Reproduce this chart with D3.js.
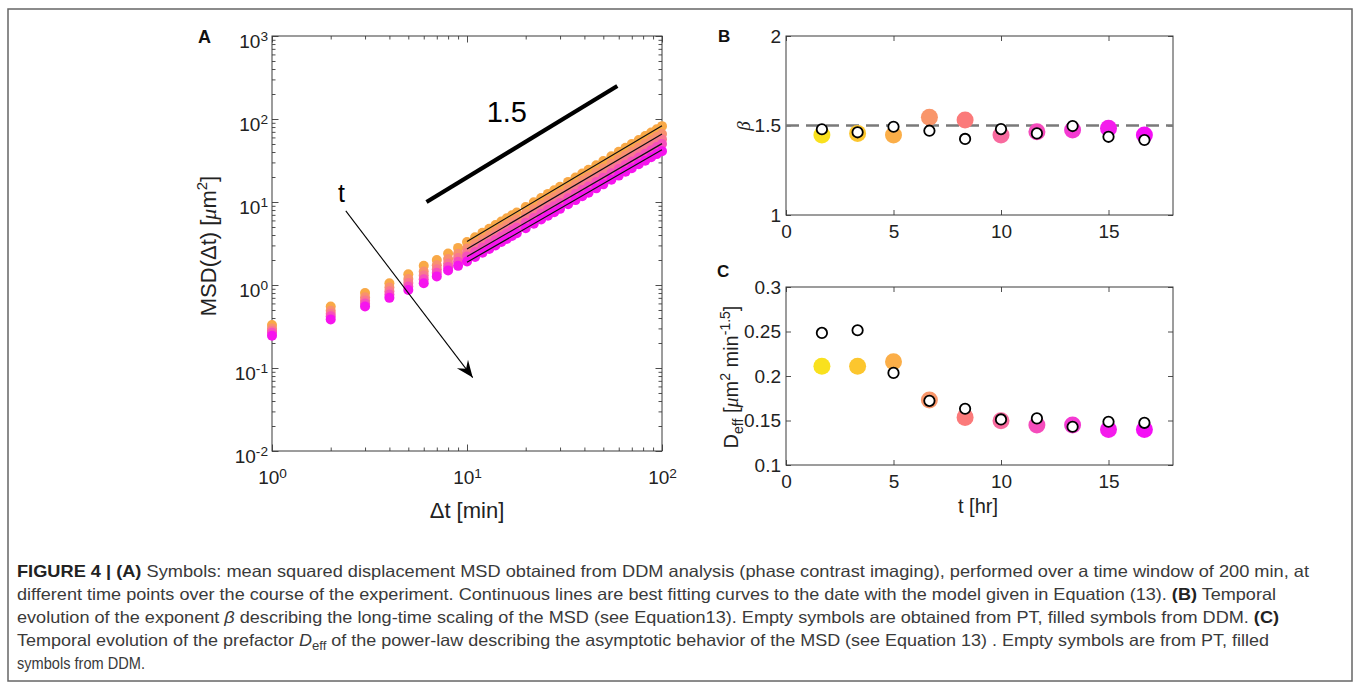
<!DOCTYPE html>
<html>
<head>
<meta charset="utf-8">
<script src="https://cdn.jsdelivr.net/npm/d3@7"></script>
<style>
  body { margin: 0; background: #fff; }
  svg { display: block; font-family: "Liberation Sans", Arial, Helvetica, sans-serif; }
</style>
</head>
<body>
<svg id="fig" width="1358" height="687"></svg>
<script>
// ---------- Panel A: MSD(Δt) curves, early (orange) to late (magenta) ----------
const dtMin = [1,2,3,4,5,6,7,8,9,10,11,12,13,14,15,16,17,18,20,22,24,26,28,30,33,36,39,42,46,50,55,60,65,70,76,82,88,94,100];
const msdS1 = [0.33,0.55,0.80,1.05,1.35,1.70,2.0,2.4,2.8,3.3,3.77,4.26,4.76,5.28,5.81,6.36,6.92,7.49,8.68,9.92,11.19,12.52,13.88,15.29,17.46,19.71,22.04,24.44,27.76,31.18,35.61,40.2,44.96,49.86,55.9,62.2,68.6,75.2,82];
const msdS2 = [0.30,0.49,0.71,0.93,1.18,1.45,1.73,2.05,2.38,2.75,3.14,3.54,3.95,4.37,4.81,5.26,5.72,6.19,7.16,8.16,9.21,10.28,11.39,12.52,14.29,16.11,17.99,19.93,22.6,25.36,28.92,32.62,36.42,40.34,45.19,50.17,55.34,60.6,66];
const msdS3 = [0.28,0.45,0.65,0.84,1.06,1.30,1.55,1.82,2.12,2.45,2.79,3.14,3.51,3.88,4.26,4.66,5.06,5.47,6.32,7.2,8.11,9.05,10.01,11.0,12.52,14.11,15.74,17.41,19.72,22.1,25.18,28.37,31.64,35.02,39.17,43.46,47.87,52.38,57];
const msdS4 = [0.265,0.42,0.60,0.77,0.96,1.17,1.40,1.65,1.90,2.2,2.50,2.82,3.14,3.47,3.81,4.16,4.52,4.88,5.63,6.41,7.21,8.04,8.89,9.76,11.11,12.51,13.94,15.41,17.44,19.53,22.23,25.01,27.87,30.83,34.45,38.2,42.05,45.97,50];
const msdS5 = [0.245,0.385,0.55,0.70,0.87,1.05,1.27,1.50,1.70,1.92,2.18,2.45,2.72,3.00,3.29,3.59,3.89,4.20,4.83,5.48,6.15,6.84,7.55,8.27,9.39,10.54,11.73,12.94,14.6,16.32,18.52,20.79,23.13,25.52,28.47,31.5,34.59,37.76,41];
const msdColors = ["#f9a947", "#f8906f", "#f87890", "#f64fbd", "#f614ee"];

// best-fit model curves over the long-time range
const fitDt = [10, 100];
const fitS1 = [3.35, 83];
const fitS2 = [2.72, 66];
const fitS4 = [2.2, 50.5];
const fitS5 = [1.88, 42.5];

// reference slope 1.5 guide and time arrow
const slopeDt = [6.2, 59];
const slopeMsd = [10, 250];
const slopeLabelAt = [16, 91];
const arrowDt = [2.39, 10.7];
const arrowMsd = [7.8, 0.0766];
const arrowLabelAt = [2.27, 9.9];

const ticksAx = [1, 10, 100];
const ticksAy = [0.01, 0.1, 1, 10, 100, 1000];

// ---------- Panels B and C: fit parameters vs experiment time ----------
const tHours = [1.67, 3.33, 5, 6.67, 8.33, 10, 11.67, 13.33, 15, 16.67];
const betaDDM = [1.447, 1.456, 1.447, 1.546, 1.531, 1.447, 1.465, 1.475, 1.484, 1.447];
const betaPT  = [1.479, 1.462, 1.493, 1.471, 1.425, 1.480, 1.456, 1.497, 1.437, 1.419];
const deffDDM = [0.211, 0.211, 0.216, 0.173, 0.1535, 0.1497, 0.1449, 0.1449, 0.140, 0.140];
const deffPT  = [0.2484, 0.2514, 0.2035, 0.1721, 0.1632, 0.1512, 0.1524, 0.143, 0.1486, 0.1474];
const timeColors = ["#f9e11e", "#fcc62e", "#fbae48", "#f9966a", "#fb7a7a", "#f86a9e", "#f54cbc", "#f43ad2", "#f41cec", "#f40ff5"];
const betaRef = 1.5;

const ticksTx = [0, 5, 10, 15];
const ticksBy = [1, 1.5, 2];
const ticksCy = [0.1, 0.15, 0.2, 0.25, 0.3];

// ---------- drawing ----------
const svg = d3.select("#fig");
const axisColor = "#3a3a3a";
const textColor = "#222";

const defs = svg.append("defs");
defs.append("marker")
  .attr("id", "arrowHead")
  .attr("viewBox", "-18 -9 20 18")
  .attr("refX", 0).attr("refY", 0)
  .attr("markerWidth", 20).attr("markerHeight", 18)
  .attr("markerUnits", "userSpaceOnUse")
  .attr("orient", "auto")
  .append("path")
  .attr("d", "M0,0 L-17,-7 L-11,0 L-17,7 Z")
  .attr("fill", "#000");

// outer frame of the figure
svg.append("rect")
  .attr("x", 8).attr("y", 9).attr("width", 1344).attr("height", 672)
  .attr("fill", "none").attr("stroke", "#666").attr("stroke-width", 1.5);

function styleAxis(g, fontSize) {
  g.select(".domain").remove();
  g.selectAll(".tick line").attr("stroke", axisColor).attr("stroke-width", 0.9);
  g.selectAll(".tick text").attr("fill", textColor).attr("font-size", fontSize)
    .attr("font-family", "'Liberation Sans', Arial, Helvetica, sans-serif");
}

function box(g, x, y) {
  const [x0, x1] = x.range();
  const [yb, yt] = y.range();
  g.append("rect").attr("x", x0).attr("y", yt)
    .attr("width", x1 - x0).attr("height", yb - yt)
    .attr("fill", "none").attr("stroke", axisColor).attr("stroke-width", 1);
}

// ticks on all four sides, pointing inward; labels only bottom/left
function ticks(g, x, y, xVals, yVals, len, opts) {
  const [x0, x1] = x.range();
  const [yb, yt] = y.range();
  const bottom = g.append("g").attr("transform", `translate(0,${yb})`)
    .call(d3.axisBottom(x).tickValues(xVals).tickSize(-len).tickSizeOuter(0)
      .tickPadding(opts.xPad).tickFormat(opts.xFormat || null));
  const left = g.append("g").attr("transform", `translate(${x0},0)`)
    .call(d3.axisLeft(y).tickValues(yVals).tickSize(-len).tickSizeOuter(0)
      .tickPadding(opts.yPad).tickFormat(opts.yFormat || null));
  const top = g.append("g").attr("transform", `translate(0,${yt})`)
    .call(d3.axisTop(x).tickValues(xVals).tickSize(-len).tickSizeOuter(0).tickFormat(() => ""));
  const right = g.append("g").attr("transform", `translate(${x1},0)`)
    .call(d3.axisRight(y).tickValues(yVals).tickSize(-len).tickSizeOuter(0).tickFormat(() => ""));
  [bottom, left, top, right].forEach(a => styleAxis(a, opts.fontSize));
  [top, right].forEach(a => a.selectAll(".tick text").remove());
  if (opts.labels === false) [bottom, left].forEach(a => a.selectAll(".tick text").remove());
  return { bottom, left };
}

function powerLabels(sel) {
  sel.selectAll(".tick text").each(function (d) {
    const t = d3.select(this);
    const e = Math.round(Math.log10(d));
    t.text(null);
    t.append("tspan").text("10");
    t.append("tspan").attr("dy", "-0.5em").attr("font-size", "0.72em").text(e);
  });
}

// ===== Panel A =====
const gA = svg.append("g");
const xA = d3.scaleLog().domain([1, 100]).range([272, 662]);
const yA = d3.scaleLog().domain([0.01, 1000]).range([451, 36]);

const minorAx = [];
[1, 10].forEach(dec => { for (let k = 2; k <= 9; k++) minorAx.push(k * dec); });
const minorAy = [];
[0.01, 0.1, 1, 10, 100].forEach(dec => { for (let k = 2; k <= 9; k++) minorAy.push(k * dec); });

ticks(gA, xA, yA, minorAx, minorAy, 3.5, { xPad: 0, yPad: 0, fontSize: 10, labels: false });
const axA = ticks(gA, xA, yA, ticksAx, ticksAy, 6.5, { xPad: 20, yPad: 4, fontSize: 19 });
powerLabels(axA.bottom);
powerLabels(axA.left);
axA.left.selectAll(".tick text").attr("dy", "0.6em");
box(gA, xA, yA);

const msdSeries = [msdS1, msdS2, msdS3, msdS4, msdS5];
msdSeries.forEach((vals, i) => {
  gA.append("g").selectAll("circle").data(vals).join("circle")
    .attr("cx", (d, j) => xA(dtMin[j]))
    .attr("cy", d => yA(d))
    .attr("r", 5)
    .attr("fill", msdColors[i]);
});

const fitLine = d3.line().x((d, j) => xA(fitDt[j])).y(d => yA(d));
[fitS1, fitS2, fitS4, fitS5].forEach(f => {
  gA.append("path").datum(f).attr("d", fitLine)
    .attr("fill", "none").attr("stroke", "#111").attr("stroke-width", 1.2);
});

// slope guide
gA.append("line")
  .attr("x1", xA(slopeDt[0])).attr("y1", yA(slopeMsd[0]))
  .attr("x2", xA(slopeDt[1])).attr("y2", yA(slopeMsd[1]))
  .attr("stroke", "#000").attr("stroke-width", 4.2);
gA.append("text")
  .attr("x", xA(slopeLabelAt[0])).attr("y", yA(slopeLabelAt[1]))
  .attr("text-anchor", "middle").attr("font-size", 29).attr("fill", "#000")
  .text("1.5");

// arrow along increasing experiment time
gA.append("line")
  .attr("x1", xA(arrowDt[0])).attr("y1", yA(arrowMsd[0]))
  .attr("x2", xA(arrowDt[1])).attr("y2", yA(arrowMsd[1]))
  .attr("stroke", "#000").attr("stroke-width", 1.1)
  .attr("marker-end", "url(#arrowHead)");
gA.append("text")
  .attr("x", xA(arrowLabelAt[0])).attr("y", yA(arrowLabelAt[1]))
  .attr("text-anchor", "middle").attr("font-size", 25).attr("fill", "#000")
  .text("t");

// axis titles A
gA.append("text").attr("x", 467).attr("y", 518).attr("text-anchor", "middle")
  .attr("font-size", 22).attr("fill", textColor).text("\u0394t [min]");
const yTitleA = gA.append("text").attr("transform", "translate(216,246) rotate(-90)")
  .attr("text-anchor", "middle").attr("font-size", 22).attr("fill", textColor);
yTitleA.append("tspan").text("MSD(\u0394t) [");
yTitleA.append("tspan").attr("font-style", "italic").attr("font-family", "'Liberation Serif', serif").text("\u03bc");
yTitleA.append("tspan").text("m");
yTitleA.append("tspan").attr("dy", -9).attr("font-size", 15).text("2");
yTitleA.append("tspan").attr("dy", 9).text("]");

svg.append("text").attr("x", 198).attr("y", 43).attr("font-size", 18)
  .attr("font-weight", "bold").attr("fill", "#111").text("A");

// ===== Panel B =====
const gB = svg.append("g");
const xT = d3.scaleLinear().domain([0, 18]).range([786, 1173]);
const yB = d3.scaleLinear().domain([1, 2]).range([215, 36]);
ticks(gB, xT, yB, ticksTx, ticksBy, 5, { xPad: 10, yPad: 5, fontSize: 19, yFormat: d3.format("") });
box(gB, xT, yB);

gB.append("line")
  .attr("x1", xT(0)).attr("x2", xT(18))
  .attr("y1", yB(betaRef)).attr("y2", yB(betaRef))
  .attr("stroke", "#7a7a7a").attr("stroke-width", 2.5)
  .attr("stroke-dasharray", "13,7");

gB.append("g").selectAll("circle").data(betaDDM).join("circle")
  .attr("cx", (d, i) => xT(tHours[i])).attr("cy", d => yB(d))
  .attr("r", 8.5).attr("fill", (d, i) => timeColors[i]);
gB.append("g").selectAll("circle").data(betaPT).join("circle")
  .attr("cx", (d, i) => xT(tHours[i])).attr("cy", d => yB(d))
  .attr("r", 5.2).attr("fill", "#fff").attr("stroke", "#000").attr("stroke-width", 1.8);

gB.append("text").attr("transform", "translate(750,126) rotate(-90)")
  .attr("text-anchor", "middle").attr("font-size", 19).attr("font-style", "italic")
  .attr("font-family", "'Liberation Serif', serif").attr("fill", textColor).text("\u03b2");

svg.append("text").attr("x", 718).attr("y", 42).attr("font-size", 17)
  .attr("font-weight", "bold").attr("fill", "#111").text("B");

// ===== Panel C =====
const gC = svg.append("g");
const yC = d3.scaleLinear().domain([0.1, 0.3]).range([465, 287]);
ticks(gC, xT, yC, ticksTx, ticksCy, 5, { xPad: 10, yPad: 5, fontSize: 19, yFormat: d3.format("") });
box(gC, xT, yC);

gC.append("g").selectAll("circle").data(deffDDM).join("circle")
  .attr("cx", (d, i) => xT(tHours[i])).attr("cy", d => yC(d))
  .attr("r", 8.5).attr("fill", (d, i) => timeColors[i]);
gC.append("g").selectAll("circle").data(deffPT).join("circle")
  .attr("cx", (d, i) => xT(tHours[i])).attr("cy", d => yC(d))
  .attr("r", 5.2).attr("fill", "#fff").attr("stroke", "#000").attr("stroke-width", 1.8);

gC.append("text").attr("x", 978).attr("y", 513).attr("text-anchor", "middle")
  .attr("font-size", 20).attr("fill", textColor).text("t [hr]");
const yTitleC = gC.append("text").attr("transform", "translate(738,377) rotate(-90)")
  .attr("text-anchor", "middle").attr("font-size", 20).attr("fill", textColor);
yTitleC.append("tspan").text("D");
yTitleC.append("tspan").attr("dy", 5).attr("font-size", 14).text("eff");
yTitleC.append("tspan").attr("dy", -5).text(" [");
yTitleC.append("tspan").attr("font-style", "italic").attr("font-family", "'Liberation Serif', serif").text("\u03bc");
yTitleC.append("tspan").text("m");
yTitleC.append("tspan").attr("dy", -8).attr("font-size", 14).text("2");
yTitleC.append("tspan").attr("dy", 8).text(" min");
yTitleC.append("tspan").attr("dy", -8).attr("font-size", 14).text("-1.5");
yTitleC.append("tspan").attr("dy", 8).text("]");

svg.append("text").attr("x", 717).attr("y", 277).attr("font-size", 17)
  .attr("font-weight", "bold").attr("fill", "#111").text("C");

// ===== Caption =====
const captionLines = [
  { y: 577, w: 1292, parts: [["FIGURE 4 | (A)", "b"], [" Symbols: mean squared displacement MSD obtained from DDM analysis (phase contrast imaging), performed over a time window of 200 min, at", ""]] },
  { y: 600, w: 1259, parts: [["different time points over the course of the experiment. Continuous lines are best fitting curves to the date with the model given in Equation (13). ", ""], ["(B)", "b"], [" Temporal", ""]] },
  { y: 623, w: 1262, parts: [["evolution of the exponent ", ""], ["\u03b2", "i"], [" describing the long-time scaling of the MSD (see Equation13). Empty symbols are obtained from PT, filled symbols from DDM. ", ""], ["(C)", "b"]] },
  { y: 646, w: 1252, parts: [["Temporal evolution of the prefactor ", ""], ["D", "i"], ["eff", "sub"], [" of the power-law describing the asymptotic behavior of the MSD (see Equation 13) . Empty symbols are from PT, filled", "back"]] },
  { y: 669, w: 128, parts: [["symbols from DDM.", ""]] }
];

const capG = svg.append("g");
captionLines.forEach(line => {
  const t = capG.append("text").attr("x", 17).attr("y", line.y)
    .attr("font-size", 16.5).attr("fill", "#3a3a3a");
  if (line.w) t.attr("textLength", line.w).attr("lengthAdjust", "spacingAndGlyphs");
  line.parts.forEach(([txt, st]) => {
    const s = t.append("tspan").text(txt);
    if (st === "b") s.attr("font-weight", "bold").attr("fill", "#222");
    if (st === "i") s.attr("font-style", "italic");
    if (st === "sub") s.attr("dy", 4).attr("font-size", 12);
    if (st === "back") s.attr("dy", -4);
  });
});
</script>
</body>
</html>
